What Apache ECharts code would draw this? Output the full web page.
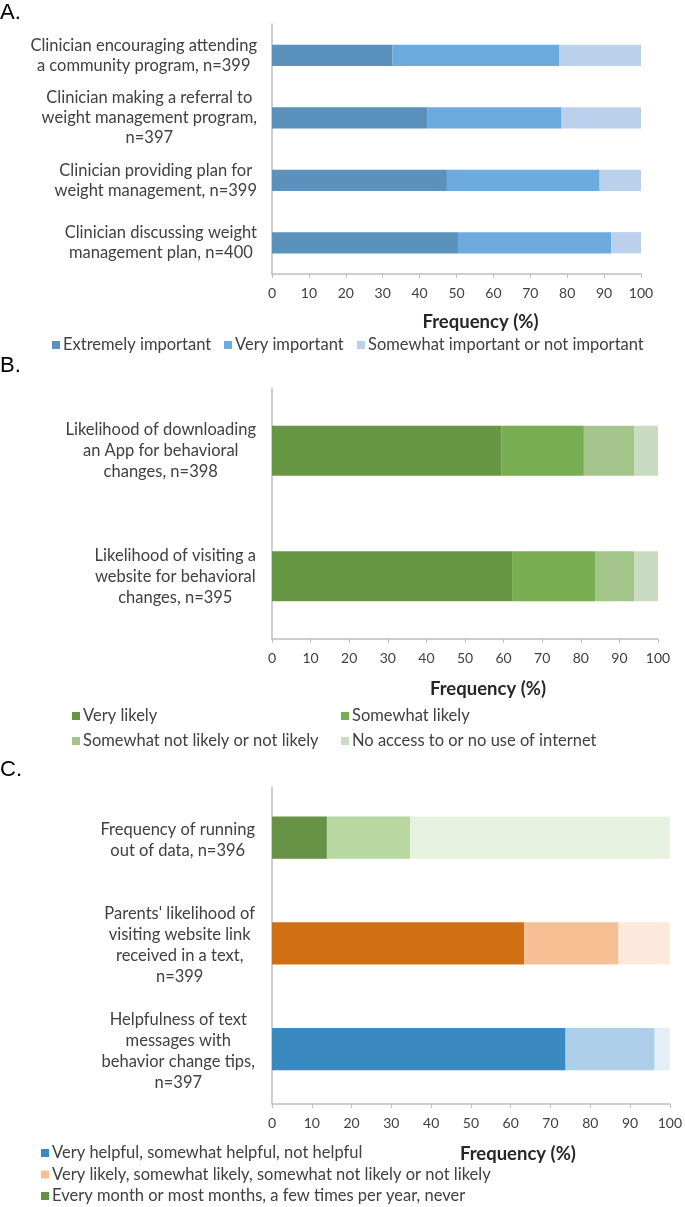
<!DOCTYPE html>
<html>
<head>
<meta charset="utf-8">
<script src="https://cdn.jsdelivr.net/npm/echarts@6/dist/echarts.min.js"></script>
<style>
html,body{margin:0;padding:0;background:#fff;}
#c{width:685px;height:1207px;}
</style>
</head>
<body>
<div id="c"></div>
<script>
// ---------- Data ----------
const catsA = [
  "Clinician encouraging attending\na community program, n=399",
  "Clinician making a referral to\nweight management program,\nn=397",
  "Clinician providing plan for\nweight management, n=399",
  "Clinician discussing weight\nmanagement plan, n=400"
];
const seriesNamesA = ["Extremely important", "Very important", "Somewhat important or not important"];
const aExtremely = [32.6, 42.2, 47.4, 50.4];
const aVery      = [45.2, 36.3, 41.4, 41.5];
const aSomewhat  = [22.2, 21.5, 11.2, 8.1];

const catsB = [
  "Likelihood of downloading\nan App for behavioral\nchanges, n=398",
  "Likelihood of visiting a\nwebsite for behavioral\nchanges, n=395"
];
const seriesNamesB = ["Very likely", "Somewhat likely", "Somewhat not likely or not likely", "No access to or no use of internet"];
const bVeryLikely     = [59.5, 62.2];
const bSomewhatLikely = [21.3, 21.5];
const bNotLikely      = [13.0, 10.1];
const bNoAccess       = [6.2, 6.2];

const catsC = [
  "Frequency of running\nout of data, n=396",
  "Parents' likelihood of\nvisiting website link\nreceived in a text,\nn=399",
  "Helpfulness of text\nmessages with\nbehavior change tips,\nn=397"
];
const legendNamesC = [
  "Very helpful, somewhat helpful, not helpful",
  "Very likely, somewhat likely, somewhat not likely or not likely",
  "Every month or most months, a few times per year, never"
];
const cFirst  = [13.8, 63.4, 73.8];
const cSecond = [20.9, 23.7, 22.4];
const cThird  = [65.3, 12.9, 3.8];

const xTicks = [0, 10, 20, 30, 40, 50, 60, 70, 80, 90, 100];

// ---------- Styles ----------
const FONT = "Lato";
const TXT = "#404040";
const AXIS = "#bfbfbf";
const LBL = 16.5;
const colA = ["#5b91bd", "#6dabde", "#bbd1eb"];
const colB = ["#679645", "#79ad52", "#a3c58c", "#c9dcbf"];
// per-category shades for panel C (row order: data, parents, helpfulness)
const shadesC = [
  ["#679145", "#b7d8a0", "#e6f1df"],
  ["#d16f15", "#f7bf94", "#fde9dc"],
  ["#3a89c1", "#aecfe9", "#e3eef8"]
];
const legendColC = ["#3a89c1", "#f7bf94", "#679145"];

function catLabel(lh, margin) {
  return {
    margin: margin,
    fontFamily: FONT, fontSize: LBL, color: TXT,
    formatter: v => v.split("\n").map(s => "{c|" + s + "}").join("\n"),
    rich: { c: { align: "center", fontFamily: FONT, fontSize: LBL, color: TXT, lineHeight: lh } }
  };
}
function xAx(gi, nameGap, shift) {
  return {
    type: "value", gridIndex: gi, min: 0, max: 100, interval: 10,
    axisLine: { show: true, lineStyle: { color: AXIS, width: 1.5 } },
    axisTick: { show: true, length: 4, lineStyle: { color: AXIS } },
    splitLine: { show: false },
    axisLabel: { margin: 12, fontFamily: FONT, fontSize: 14, color: TXT,
      formatter: v => xTicks.indexOf(v) >= 0 ? String(v) : "" },
    name: "Frequency (%)", nameLocation: "middle", nameGap: nameGap,
    nameTextStyle: { fontFamily: FONT, fontSize: 18.5, fontWeight: "bold", color: "#262626",
      padding: [0, 0, 0, shift * 2] }
  };
}
function yAx(gi, cats, lh, margin) {
  return {
    type: "category", gridIndex: gi, data: cats, inverse: true,
    axisLine: { show: true, lineStyle: { color: AXIS, width: 1.5 } },
    axisTick: { show: false },
    axisLabel: catLabel(lh, margin)
  };
}
function stackSeries(name, data, color, gi, stack, bw) {
  return {
    type: "bar", name: name, data: data, stack: stack,
    xAxisIndex: gi, yAxisIndex: gi, barWidth: bw,
    itemStyle: { color: color }, silent: true
  };
}

const series = [];
[aExtremely, aVery, aSomewhat].forEach((d, i) => series.push(stackSeries(seriesNamesA[i], d, colA[i], 0, "A", "34%")));
[bVeryLikely, bSomewhatLikely, bNotLikely, bNoAccess].forEach((d, i) => series.push(stackSeries(seriesNamesB[i], d, colB[i], 1, "B", "40%")));
[cFirst, cSecond, cThird].forEach((d, k) => {
  series.push({
    type: "bar", name: "C" + (k + 1), stack: "C", xAxisIndex: 2, yAxisIndex: 2, barWidth: "40%", silent: true,
    data: d.map((v, r) => ({ value: v, itemStyle: { color: shadesC[r][k] } }))
  });
});
legendNamesC.forEach((n, i) => series.push({
  type: "bar", name: n, stack: "Cl", xAxisIndex: 2, yAxisIndex: 2, data: [], itemStyle: { color: legendColC[i] }
}));

function leg(names, left, top, orient, gap, lh) {
  return {
    data: names, left: left, top: top, orient: orient || "horizontal",
    itemGap: gap || 10, itemWidth: 8, itemHeight: 8, icon: "rect", padding: 0,
    selectedMode: false,
    textStyle: { fontFamily: FONT, fontSize: LBL, color: TXT, lineHeight: lh || 18, padding: [0, 0, 0, -2] }
  };
}

const option = {
  animation: false,
  backgroundColor: "#fff",
  title: [
    { text: "A.", left: 0, top: 2, padding: 0, textStyle: { fontFamily: "Liberation Sans", fontSize: 22, fontWeight: "normal", color: "#000" } },
    { text: "B.", left: 0, top: 355, padding: 0, textStyle: { fontFamily: "Liberation Sans", fontSize: 22, fontWeight: "normal", color: "#000" } },
    { text: "C.", left: 0, top: 759, padding: 0, textStyle: { fontFamily: "Liberation Sans", fontSize: 22, fontWeight: "normal", color: "#000" } }
  ],
  grid: [
    { left: 272, right: 44, top: 24, height: 250 },
    { left: 272, right: 27, top: 388, height: 251 },
    { left: 272, right: 13, top: 787, height: 317 }
  ],
  xAxis: [xAx(0, 39, 24), xAx(1, 41, 23), xAx(2, 41, 47)],
  yAxis: [yAx(0, catsA, 20, 15), yAx(1, catsB, 21, 16), yAx(2, catsC, 21, 17)],
  legend: [
    leg([seriesNamesA[0]], 52, 336),
    leg([seriesNamesA[1]], 224, 336),
    leg([seriesNamesA[2]], 357, 336),
    leg([seriesNamesB[0], seriesNamesB[2]], 72, 707, "vertical", 7),
    leg([seriesNamesB[1], seriesNamesB[3]], 341, 707, "vertical", 7),
    leg(legendNamesC, 41, 1144, "vertical", 3.5)
  ],
  series: series
};

const chart = echarts.init(document.getElementById("c"), null, { renderer: "canvas" });
chart.setOption(option);
</script>
</body>
</html>
